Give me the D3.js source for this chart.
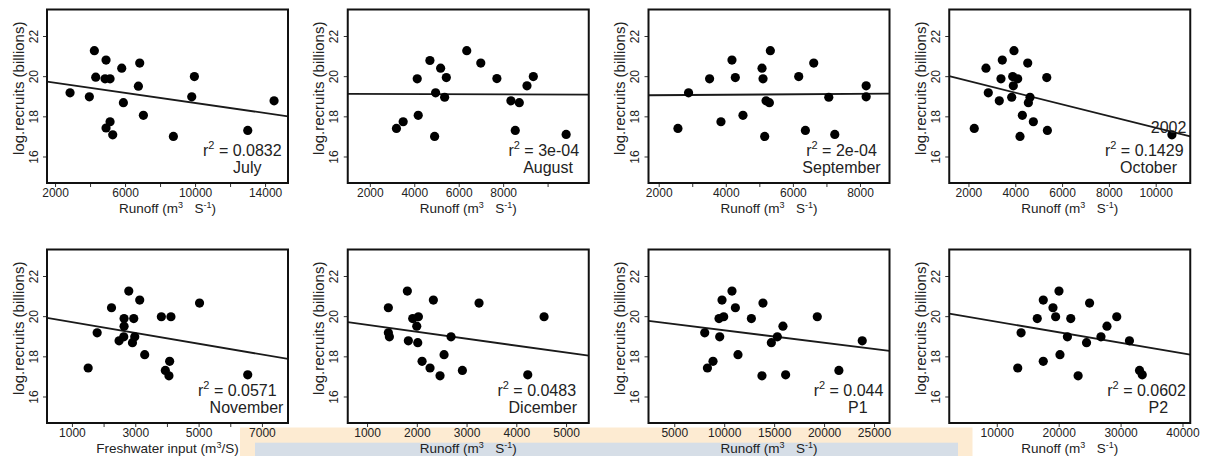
<!DOCTYPE html>
<html>
<head>
<meta charset="utf-8">
<script src="https://cdn.jsdelivr.net/npm/d3@7"></script>
<style>
  html, body { margin: 0; padding: 0; background: #fff; }
  svg { display: block; }
  text { font-family: "Liberation Sans", Arial, Helvetica, sans-serif; fill: #222; }
</style>
</head>
<body>
<svg id="chart" width="1208" height="456"></svg>
<script>
// ---------------- DATA ----------------
const panelLabels = ["July", "August", "September", "October", "November", "Dicember", "P1", "P2"];
const r2Labels = ["0.0832", "3e-04", "2e-04", "0.1429", "0.0571", "0.0483", "0.044", "0.0602"];
const xTitleKinds = ["runoff", "runoff", "runoff", "runoff", "freshwater", "runoff", "runoff", "runoff"];
const yTicks = [16, 18, 20, 22];
const yRange = [14.68, 23.32];

const xRanges = [
  [1540, 15310], [1006, 11853], [1696, 8880], [1180, 11476],
  [213, 7823], [612, 5456], [2420, 26550], [2325, 41252]
];
const xTickValues = [
  [2000, 4000, 6000, 8000, 10000, 12000, 14000],
  [2000, 4000, 6000, 8000, 10000],
  [2000, 3000, 4000, 5000, 6000, 7000, 8000],
  [2000, 4000, 6000, 8000, 10000],
  [1000, 2000, 3000, 4000, 5000, 6000, 7000],
  [1000, 2000, 3000, 4000, 5000],
  [5000, 10000, 15000, 20000, 25000],
  [10000, 20000, 30000, 40000]
];
const xTickLabels = [
  [2000, 6000, 10000, 14000],
  [2000, 4000, 6000, 8000],
  [2000, 4000, 6000, 8000],
  [2000, 4000, 6000, 8000, 10000],
  [1000, 3000, 5000, 7000],
  [1000, 2000, 3000, 4000, 5000],
  [5000, 10000, 15000, 20000, 25000],
  [10000, 20000, 30000, 40000]
];

const julyRunoff = [2857, 3960, 4246, 4324, 4914, 4857, 5143, 4914, 5143, 5295, 5810, 5905, 6762, 6838, 7048, 8762, 9810, 9962, 13010, 14514];
const julyRecruits = [19.17, 18.97, 21.27, 19.95, 20.8, 19.87, 19.87, 17.42, 17.73, 17.08, 20.4, 18.68, 19.5, 20.65, 18.05, 17.0, 18.97, 19.98, 17.3, 18.77];

const augustRunoff = [3198, 3500, 4133, 4178, 4704, 4915, 4960, 5186, 5367, 5443, 6362, 6994, 7718, 8350, 8546, 8727, 9073, 9359, 10836];
const augustRecruits = [17.4, 17.73, 19.87, 18.05, 20.78, 17.0, 19.17, 20.4, 18.95, 19.93, 21.27, 20.65, 19.88, 18.77, 17.3, 18.68, 19.52, 19.98, 17.1];

const septemberRunoff = [2573, 2890, 3517, 3856, 4184, 4284, 4512, 5080, 5110, 5159, 5200, 5299, 5328, 6174, 6373, 6622, 7070, 7249, 8184, 8184];
const septemberRecruits = [17.4, 19.17, 19.87, 17.73, 20.8, 19.93, 18.05, 20.4, 19.87, 17.0, 18.77, 18.68, 21.27, 19.98, 17.3, 20.65, 18.95, 17.1, 18.97, 19.52];

const octoberRunoff = [2249, 2749, 2848, 3318, 3390, 3447, 3848, 3891, 3917, 3946, 4104, 4203, 4303, 4533, 4560, 4631, 4773, 5345, 5372, 10693];
const octoberRecruits = [17.4, 20.4, 19.17, 18.77, 19.87, 20.8, 18.95, 19.98, 19.52, 21.27, 19.87, 17.0, 18.05, 20.65, 18.68, 18.95, 17.73, 19.93, 17.3, 17.08];

const novemberInput = [1513, 1797, 2250, 2489, 2637, 2647, 2647, 2795, 2911, 2952, 2984, 3141, 3298, 3824, 3950, 4086, 4064, 4127, 5030, 6551];
const novemberRecruits = [17.42, 19.17, 20.42, 18.77, 18.97, 19.5, 19.88, 21.25, 18.68, 19.88, 18.97, 20.8, 18.08, 19.97, 17.3, 17.75, 17.03, 19.97, 20.65, 17.08];

const dicemberRunoff = [1428, 1428, 1449, 1810, 1830, 1918, 1999, 2032, 2019, 2106, 2266, 2333, 2467, 2548, 2688, 2916, 3251, 4230, 4558];
const dicemberRecruits = [20.42, 19.17, 18.97, 21.25, 18.77, 19.88, 19.5, 19.97, 18.68, 17.75, 17.42, 20.8, 17.03, 18.08, 18.97, 17.3, 20.65, 17.08, 19.97];

const p1Runoff = [8050, 8320, 8880, 9480, 9550, 9780, 9950, 10780, 11120, 11380, 12720, 13780, 13880, 14720, 15320, 15880, 16150, 19320, 21480, 23820];
const p1Recruits = [19.17, 17.42, 17.75, 19.88, 18.97, 20.8, 19.97, 21.25, 20.42, 18.08, 19.88, 17.03, 20.65, 18.68, 18.97, 19.5, 17.08, 19.97, 17.3, 18.77];

const p2Runoff = [13390, 13930, 16540, 17510, 17510, 19080, 19510, 20050, 20210, 21410, 21950, 23140, 24500, 24990, 26830, 27800, 29380, 31430, 33060, 33500];
const p2Recruits = [17.42, 19.17, 19.88, 20.8, 17.75, 20.42, 19.97, 21.25, 18.08, 18.97, 19.88, 17.03, 18.68, 20.65, 18.97, 19.5, 19.97, 18.77, 17.3, 17.08];

// regression fits: [intercept, slope]
const fitIntercepts = [19.923, 19.1237, 19.031, 20.344, 19.977, 19.911, 19.920, 20.252];
const fitSlopes = [-1.2564e-4, -3.69e-6, 1.1136e-5, -2.9138e-4, -2.6938e-4, -3.4476e-4, -6.2163e-5, -5.2663e-5];

// point annotation in October panel
const annotText = ["2002"];
const annotX = [10550];
const annotY = [17.47];

// ---------------- LAYOUT ----------------
const xs = [julyRunoff, augustRunoff, septemberRunoff, octoberRunoff, novemberInput, dicemberRunoff, p1Runoff, p2Runoff];
const ys = [julyRecruits, augustRecruits, septemberRecruits, octoberRecruits, novemberRecruits, dicemberRecruits, p1Recruits, p2Recruits];

const boxW = 241, boxH = 173.5;
const colLeft = i => 47 + i * 300.75;
const rowTop = [9.5, 249.5];
// label centre offsets from box right edge (px)
const r2Off = [45.7, 45, 48, 46, 50.7, 52, 41, 43.7];
const monthOff = [40.7, 40.7, 48, 41.7, 41.5, 46, 31.7, 32];

const svg = d3.select("#chart");

// background artefact bands (from the source image)
svg.append("rect").attr("x", 240).attr("y", 427.5).attr("width", 732.5).attr("height", 28.5).attr("fill", "#fdebd2");
svg.append("rect").attr("x", 255).attr("y", 442.7).attr("width", 703).attr("height", 13.3).attr("fill", "#d6dee7");

for (let p = 0; p < 8; p++) {
  const col = p % 4, row = Math.floor(p / 4);
  const left = colLeft(col), top = rowTop[row];
  const g = svg.append("g").attr("transform", `translate(${left},${top})`);

  const x = d3.scaleLinear().domain(xRanges[p]).range([0, boxW]);
  const y = d3.scaleLinear().domain(yRange).range([boxH, 0]);

  const clipId = "clip" + p;
  g.append("clipPath").attr("id", clipId).append("rect").attr("width", boxW).attr("height", boxH);

  // x axis
  const labelSet = new Set(xTickLabels[p]);
  const xAxis = d3.axisBottom(x).tickValues(xTickValues[p]).tickSize(4).tickPadding(1.5)
      .tickFormat(d => labelSet.has(d) ? String(d) : "");
  const xg = g.append("g").attr("transform", `translate(0,${boxH})`).call(xAxis);
  xg.select(".domain").remove();
  xg.selectAll("line").attr("stroke", "#333").attr("stroke-width", 1);
  xg.selectAll("text").attr("font-size", 12).attr("fill", "#222")
    .style("font-family", '"Liberation Sans", Arial, sans-serif');

  // y axis (labels rotated, R style)
  const yAxis = d3.axisLeft(y).tickValues(yTicks).tickSize(4).tickFormat(d3.format("d"));
  const yg = g.append("g").call(yAxis);
  yg.select(".domain").remove();
  yg.selectAll("line").attr("stroke", "#333");
  yg.selectAll("text")
    .attr("x", null).attr("dy", null)
    .attr("text-anchor", "middle")
    .attr("transform", "translate(-13.7,0) rotate(-90)")
    .attr("dy", "0.35em")
    .attr("font-size", 12).attr("fill", "#222")
    .style("font-family", '"Liberation Sans", Arial, sans-serif');

  // axis titles
  g.append("text")
    .attr("transform", `translate(-28.7,${boxH / 2 - 8}) rotate(-90)`)
    .attr("text-anchor", "middle").attr("dy", "0.35em")
    .attr("font-size", 15)
    .text("log.recruits (billions)");

  const xt = g.append("text")
    .attr("x", boxW / 2).attr("y", boxH + 29.5)
    .attr("text-anchor", "middle").attr("font-size", 13.5);
  if (xTitleKinds[p] === "freshwater") {
    xt.append("tspan").text("Freshwater input (m");
    xt.append("tspan").attr("font-size", 9).attr("dy", -4.5).text("3");
    xt.append("tspan").attr("dy", 4.5).text("/S)");
  } else {
    xt.append("tspan").text("Runoff (m");
    xt.append("tspan").attr("font-size", 9).attr("dy", -4.5).text("3");
    xt.append("tspan").attr("dy", 4.5).text("\u00a0\u00a0\u00a0S");
    xt.append("tspan").attr("font-size", 9).attr("dy", -4.5).text("-1");
    xt.append("tspan").attr("dy", 4.5).text(")");
  }

  // regression line
  const [x0, x1] = xRanges[p];
  const fit = v => fitIntercepts[p] + fitSlopes[p] * v;
  g.append("line")
    .attr("clip-path", `url(#${clipId})`)
    .attr("x1", x(x0)).attr("y1", y(fit(x0)))
    .attr("x2", x(x1)).attr("y2", y(fit(x1)))
    .attr("stroke", "#1a1a1a").attr("stroke-width", 1.8);

  // points
  const pts = xs[p].map((v, i) => [v, ys[p][i]]);
  g.selectAll("circle.pt").data(pts).join("circle")
    .attr("class", "pt")
    .attr("cx", d => x(d[0])).attr("cy", d => y(d[1]))
    .attr("r", 4.6).attr("fill", "#000");

  // r2 and panel label
  const rt = g.append("text")
    .attr("x", boxW - r2Off[p]).attr("y", 146)
    .attr("text-anchor", "middle").attr("font-size", 16);
  rt.append("tspan").text("r");
  rt.append("tspan").attr("font-size", 11).attr("dy", -7).text("2");
  rt.append("tspan").attr("dy", 7).text(" = " + r2Labels[p]);

  g.append("text")
    .attr("x", boxW - monthOff[p]).attr("y", 163)
    .attr("text-anchor", "middle").attr("font-size", 16)
    .text(panelLabels[p]);

  if (p === 3) {
    g.selectAll("text.annot").data(annotText).join("text")
      .attr("class", "annot")
      .attr("x", (d, i) => x(annotX[i])).attr("y", (d, i) => y(annotY[i]))
      .attr("dy", "0.35em").attr("text-anchor", "middle").attr("font-size", 16)
      .text(d => d);
  }

  // box
  g.append("rect").attr("width", boxW).attr("height", boxH)
    .attr("fill", "none").attr("stroke", "#111").attr("stroke-width", 2);
}
</script>
</body>
</html>
